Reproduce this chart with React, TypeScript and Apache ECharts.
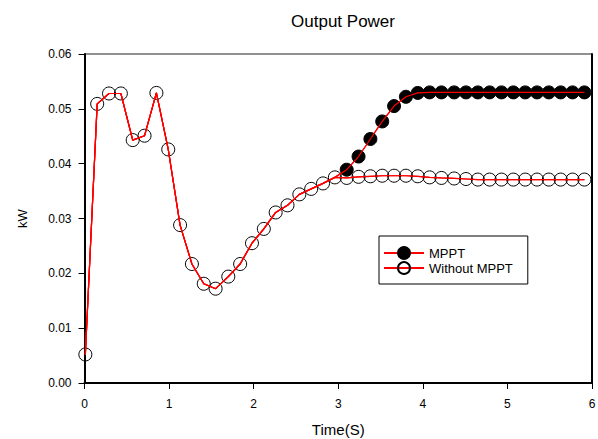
import React, { useEffect, useRef } from "react";
import * as echarts from "echarts";

const time = [0.01, 0.15, 0.29, 0.43, 0.57, 0.71, 0.85, 0.99, 1.13, 1.27, 1.41, 1.55, 1.7, 1.84, 1.98, 2.12, 2.26, 2.4, 2.54, 2.68, 2.82, 2.96, 3.1, 3.24, 3.38, 3.52, 3.66, 3.8, 3.94, 4.08, 4.22, 4.37, 4.51, 4.65, 4.79, 4.93, 5.07, 5.21, 5.35, 5.49, 5.63, 5.77, 5.91];

const withoutMppt = [0.0052, 0.0509, 0.0528, 0.0528, 0.0443, 0.0451, 0.0529, 0.0426, 0.0288, 0.0217, 0.0181, 0.0172, 0.0194, 0.0217, 0.0255, 0.0281, 0.0311, 0.0324, 0.0344, 0.0354, 0.0364, 0.0375, 0.0374, 0.0376, 0.0377, 0.0378, 0.0378, 0.0378, 0.0377, 0.0375, 0.0374, 0.0373, 0.0372, 0.0371, 0.0371, 0.0371, 0.0371, 0.0371, 0.0371, 0.0371, 0.0371, 0.0371, 0.0371];

const mppt = [0.0052, 0.0509, 0.0528, 0.0528, 0.0443, 0.0451, 0.0529, 0.0426, 0.0288, 0.0217, 0.0181, 0.0172, 0.0194, 0.0217, 0.0255, 0.0281, 0.0311, 0.0324, 0.0344, 0.0354, 0.0364, 0.0375, 0.0389, 0.0413, 0.0445, 0.0477, 0.0505, 0.0522, 0.0529, 0.053, 0.053, 0.053, 0.053, 0.053, 0.053, 0.053, 0.053, 0.053, 0.053, 0.053, 0.053, 0.053, 0.053];

// index from which the MPPT curve separates (markers shown from here)
const mpptStart = 22;

const xTicks = [0, 6, 1];
const yTicks = [0, 0.06, 0.01];

const FONT = "Liberation Sans, Arial, sans-serif";

export default function App() {
  const ref = useRef<HTMLDivElement>(null);
  useEffect(() => {
    if (!ref.current) return;
    const chart = echarts.init(ref.current, null, { renderer: "svg" });
    const withoutPts = time.map((t, i) => [t, withoutMppt[i]]);
    const mpptPts = time.map((t, i) =>
      i < mpptStart ? { value: [t, mppt[i]], symbol: "none" } : { value: [t, mppt[i]] }
    );
    const mpptLine = time.map((t, i) => [t, mppt[i]]);
    chart.setOption({
      animation: false,
      backgroundColor: "#fff",
      textStyle: { fontFamily: FONT },
      title: {
        text: "Output Power",
        left: 338,
        textAlign: "center",
        top: 8,
        textStyle: { fontFamily: FONT, fontSize: 17, fontWeight: "normal", color: "#000" },
      },
      grid: {
        left: 84.5,
        right: 6,
        top: 54,
        bottom: 56,
        show: true,
        borderColor: "#222",
        borderWidth: 1,
        outerBoundsMode: "none",
      },
      legend: {
        orient: "vertical",
        left: 379,
        top: 236,
        data: ["MPPT", "Without MPPT"],
        itemWidth: 40,
        itemHeight: 15,
        itemGap: 1,
        padding: [10, 15, 9, 4],
        borderColor: "#000",
        borderWidth: 1,
        backgroundColor: "#fff",
        textStyle: { fontFamily: FONT, fontSize: 13, color: "#000" },
      },
      xAxis: {
        type: "value",
        min: xTicks[0],
        max: xTicks[1],
        interval: xTicks[2],
        name: "Time(S)",
        nameLocation: "middle",
        nameGap: 39,
        nameTextStyle: { fontFamily: FONT, fontSize: 15, color: "#000" },
        axisLine: { onZero: false, lineStyle: { color: "#000", width: 2 } },
        axisTick: { inside: false, length: 6, lineStyle: { color: "#000", width: 1 } },
        axisLabel: { fontFamily: FONT, fontSize: 12, color: "#000", margin: 15 },
        splitLine: { show: false },
      },
      yAxis: [
        {
          type: "value",
          min: yTicks[0],
          max: yTicks[1],
          interval: yTicks[2],
          name: "kW",
          nameLocation: "middle",
          nameGap: 56,
          nameTextStyle: { fontFamily: FONT, fontSize: 13, color: "#000" },
          axisLine: { show: true, onZero: false, lineStyle: { color: "#000", width: 2 } },
          axisTick: { show: true, inside: false, length: 6, lineStyle: { color: "#000", width: 1 } },
          axisLabel: {
            fontFamily: FONT,
            fontSize: 12,
            color: "#000",
            margin: 13,
            formatter: (v: number) => v.toFixed(2),
          },
          splitLine: { show: false },
        },
        {
          type: "value",
          position: "right",
          min: yTicks[0],
          max: yTicks[1],
          interval: yTicks[2],
          axisLine: { show: true, onZero: false, lineStyle: { color: "#000", width: 2 } },
          axisTick: { show: false },
          axisLabel: { show: false },
          splitLine: { show: false },
        },
      ],
      series: [
        {
          name: "Without MPPT",
          type: "line",
          data: withoutPts,
          showAllSymbol: true,
          symbol: "circle",
          symbolSize: 13,
          itemStyle: { color: "transparent", borderColor: "#000", borderWidth: 1 },
          lineStyle: { color: "#ff0000", width: 1.2 },
          z: 2,
        },
        {
          name: "MPPT",
          type: "line",
          data: mpptPts,
          showAllSymbol: true,
          symbol: "circle",
          symbolSize: 13,
          itemStyle: { color: "#000", borderColor: "#000", borderWidth: 1 },
          lineStyle: { color: "#ff0000", width: 1.2 },
          z: 3,
        },
        {
          name: "_withoutLine",
          type: "line",
          data: withoutPts,
          symbol: "none",
          silent: true,
          lineStyle: { color: "#ff0000", width: 1.2 },
          z: 4,
        },
        {
          name: "_mpptLine",
          type: "line",
          data: mpptLine,
          symbol: "none",
          silent: true,
          lineStyle: { color: "#ff0000", width: 1.2 },
          z: 4,
        },
      ],
    });
    return () => chart.dispose();
  }, []);
  return (
    <div
      ref={ref}
      style={{ position: "absolute", left: 0, top: 0, width: 598, height: 439 }}
    />
  );
}
